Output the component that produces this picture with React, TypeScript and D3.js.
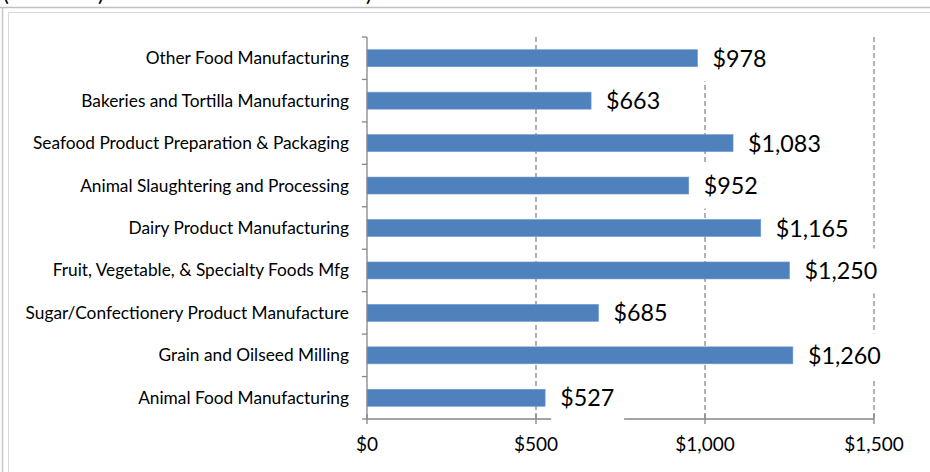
import React from "react";
import * as d3 from "d3";

const categories = [
  "Other Food Manufacturing",
  "Bakeries and Tortilla Manufacturing",
  "Seafood Product Preparation & Packaging",
  "Animal Slaughtering and Processing",
  "Dairy Product Manufacturing",
  "Fruit, Vegetable, & Specialty Foods Mfg",
  "Sugar/Confectionery Product Manufacture",
  "Grain and Oilseed Milling",
  "Animal Food Manufacturing",
];
const values = [978, 663, 1083, 952, 1165, 1250, 685, 1260, 527];
const xTicks = [0, 500, 1000, 1500];

const W = 930;
const H = 472;
const FONT = "Lato, 'Open Sans', sans-serif";

export default function App() {
  const x = d3.scaleLinear().domain([0, 1500]).range([367, 874]);
  const y = d3.scaleBand<string>().domain(categories).range([37, 419]).paddingInner(0.6).paddingOuter(0.3);
  const fmt = (v: number) => "$" + d3.format(",")(v);
  const bounds = d3.range(categories.length + 1).map((i) => 37 + (i * (419 - 37)) / categories.length);

  return (
    <svg width={W} height={H} style={{ position: "absolute", left: 0, top: 0, background: "#fff" }} fontFamily={FONT}>
      <rect x={0} y={0} width={W} height={H} fill="#fff" />
      {/* clipped title remnants */}
      <text x={3} y={0.5} fontSize={22} fill="#000">(</text>
      <text x={98} y={0.5} fontSize={22} fill="#000">)</text>
      <text x={366} y={0.5} fontSize={22} fill="#000">)</text>
      {/* frames */}
      <line x1={0} x2={W} y1={7.5} y2={7.5} stroke="#c0c0c0" strokeWidth={1.5} />
      <line x1={2.5} x2={2.5} y1={7} y2={H} stroke="#c8c8c8" strokeWidth={1.5} />
      <line x1={8.5} x2={W} y1={12.5} y2={12.5} stroke="#d9d9d9" />
      <line x1={8.5} x2={8.5} y1={12.5} y2={H} stroke="#d9d9d9" />

      {/* gridlines */}
      {xTicks.slice(1).map((t) => (
        <line key={"g" + t} x1={x(t)} x2={x(t)} y1={37} y2={419} stroke="#8a8a8a" strokeWidth={1.3} strokeDasharray="5,3" />
      ))}

      {/* bars */}
      {categories.map((c, i) => (
        <rect key={c} x={x(0)} y={y(c)} width={x(values[i]) - x(0)} height={y.bandwidth()} fill="#4F81BD" stroke="#6f9ad0" strokeWidth={0.6} />
      ))}

      {/* axes */}
      <line x1={x(0)} x2={x(0)} y1={37} y2={419} stroke="#868686" strokeWidth={1.3} />
      {bounds.map((b, i) => (
        <line key={"yt" + i} x1={x(0) - 5} x2={x(0)} y1={b} y2={b} stroke="#868686" strokeWidth={1.3} />
      ))}
      <line x1={x(0)} x2={x(1500)} y1={419} y2={419} stroke="#868686" strokeWidth={1.3} />
      {xTicks.map((t) => (
        <line key={"xt" + t} x1={x(t)} x2={x(t)} y1={414} y2={424} stroke="#868686" strokeWidth={1.3} />
      ))}

      {/* value labels */}
      {categories.map((c, i) => {
        const bx = x(values[i]);
        const cy = (y(c) as number) + y.bandwidth() / 2;
        const label = fmt(values[i]);
        const tw = label.replace(",", "").length * 13.5 + (label.includes(",") ? 6 : 0);
        return (
          <g key={"v" + c}>
            <rect x={bx + 6} y={cy - 22} width={tw + 19} height={45} fill="#fff" />
            <text x={bx + 15} y={cy + 8.5} fontSize={23.3} fill="#000">{label}</text>
          </g>
        );
      })}

      {/* category labels */}
      {categories.map((c) => (
        <text key={"c" + c} x={349} y={(y(c) as number) + y.bandwidth() / 2 + 6} fontSize={17.3} textAnchor="end" fill="#000">{c}</text>
      ))}

      {/* x tick labels */}
      {xTicks.map((t) => (
        <text key={"xl" + t} x={x(t)} y={451} fontSize={19} textAnchor="middle" fill="#000">{fmt(t)}</text>
      ))}
    </svg>
  );
}
